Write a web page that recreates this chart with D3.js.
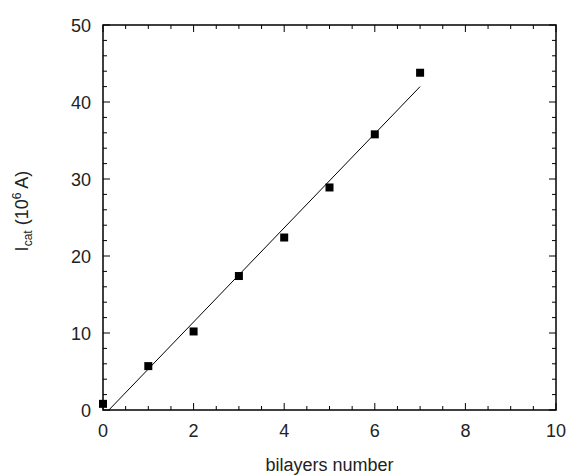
<!DOCTYPE html>
<html><head><meta charset="utf-8">
<script src="https://cdn.jsdelivr.net/npm/d3@7"></script>
<style>body{margin:0;background:#fff}svg{display:block}text{font-family:"Liberation Sans",Arial,sans-serif;fill:#222}</style>
</head><body>
<svg id="c" width="568" height="475"></svg>
<script>
const bilayers = [0, 1, 2, 3, 4, 5, 6, 7];
const icat = [0.8, 5.7, 10.2, 17.4, 22.4, 28.9, 35.8, 43.8];
const fitX = [0.13, 7];
const fitY = [0, 42];
const xTickLabels = [0, 2, 4, 6, 8, 10];
const yTickLabels = [0, 10, 20, 30, 40, 50];

const svg = d3.select("#c");
const L = 103, R = 556, T = 25, B = 410;
const x = d3.scaleLinear().domain([0, 10]).range([L, R]);
const y = d3.scaleLinear().domain([0, 50]).range([B, T]);

const g = svg.append("g");
// minor/major ticks inside on all four sides
const xMinor = d3.range(0, 10.01, 0.5);
const yMinor = d3.range(0, 50.01, 2);
function tickLen(v, majors){ return majors.includes(+v.toFixed(2)) ? 7 : 4; }
xMinor.forEach(v=>{
  const len = tickLen(v, xTickLabels);
  g.append("line").attr("x1",x(v)).attr("x2",x(v)).attr("y1",B).attr("y2",B-len).attr("stroke","#000");
  g.append("line").attr("x1",x(v)).attr("x2",x(v)).attr("y1",T).attr("y2",T+len).attr("stroke","#000");
});
yMinor.forEach(v=>{
  const len = tickLen(v, yTickLabels);
  g.append("line").attr("y1",y(v)).attr("y2",y(v)).attr("x1",L).attr("x2",L+len).attr("stroke","#000");
  g.append("line").attr("y1",y(v)).attr("y2",y(v)).attr("x1",R).attr("x2",R-len).attr("stroke","#000");
});
g.append("rect").attr("x",L).attr("y",T).attr("width",R-L).attr("height",B-T)
  .attr("fill","none").attr("stroke","#000").attr("stroke-width",1.5);

// tick labels
xTickLabels.forEach(v=>{
  g.append("text").attr("x",x(v)).attr("y",437).attr("text-anchor","middle")
   .attr("font-size",18).text(v);
});
yTickLabels.forEach(v=>{
  g.append("text").attr("x",91).attr("y",y(v)+6.5).attr("text-anchor","end")
   .attr("font-size",18).text(v);
});

// fit line
const line = d3.line().x(d=>x(d[0])).y(d=>y(d[1]));
g.append("path").datum(d3.zip(fitX, fitY)).attr("d", line)
  .attr("fill","none").attr("stroke","#000").attr("stroke-width",1);

// points
const s = 8;
g.selectAll("rect.pt").data(d3.zip(bilayers, icat)).enter().append("rect")
  .attr("class","pt").attr("x",d=>x(d[0])-s/2).attr("y",d=>y(d[1])-s/2)
  .attr("width",s).attr("height",s).attr("fill","#000");

// axis titles
svg.append("text").attr("x",(L+R)/2).attr("y",471).attr("text-anchor","middle")
  .attr("font-size",18).text("bilayers number");
const yl = svg.append("text").attr("transform","translate(28,211) rotate(-90)")
  .attr("text-anchor","middle").attr("font-size",18);
yl.append("tspan").text("I");
yl.append("tspan").attr("font-size",12).attr("dy",4).text("cat");
yl.append("tspan").attr("dy",-4).text(" (10");
yl.append("tspan").attr("font-size",12).attr("dy",-7).text("6");
yl.append("tspan").attr("dy",7).text(" A)");
</script>
</body></html>
